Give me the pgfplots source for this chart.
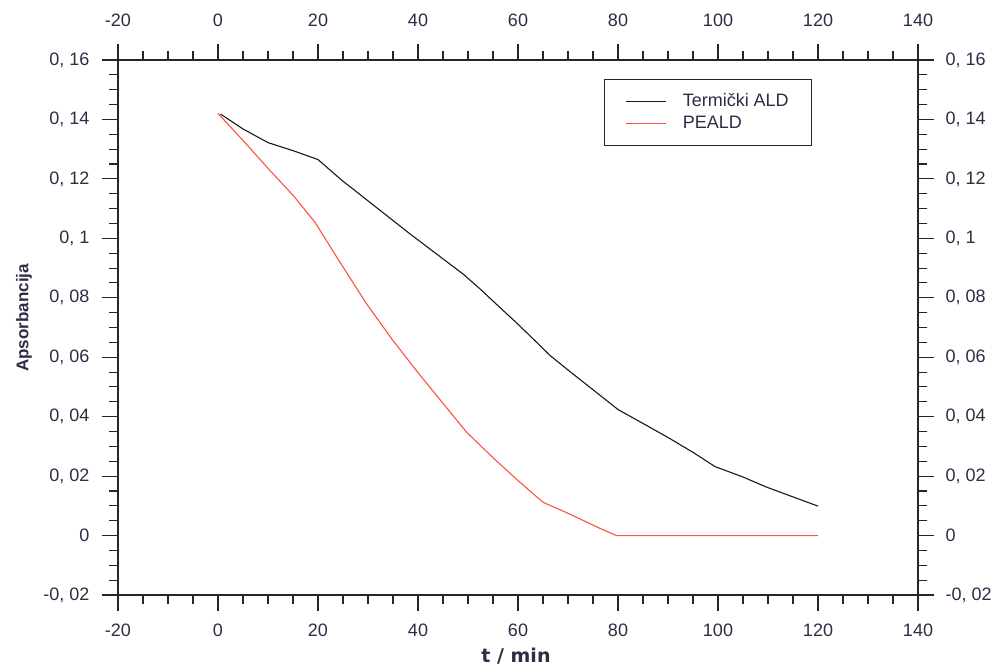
\documentclass[border=0pt]{standalone}
\usepackage{pgfplots}
\pgfplotsset{compat=1.18}
\usepackage{fontspec}
\setmainfont{Liberation Sans}
\newfontfamily\labfont{DejaVu Sans}
\definecolor{tickc}{RGB}{45,45,70}
\definecolor{redl}{RGB}{255,80,70}
\definecolor{blackl}{RGB}{25,25,25}
\begin{document}
\begin{tikzpicture}
\pgfplotsset{
 myaxis/.style={
  width=800pt, height=535pt, scale only axis,
  xmin=-20, xmax=140, ymin=-0.02, ymax=0.16,
  xtick={-20,0,20,40,60,80,100,120,140},
  ytick={-0.02,0,0.02,0.04,0.06,0.08,0.1,0.12,0.14,0.16},
  xticklabels={-20,0,20,40,60,80,100,120,140},
  yticklabels={{-0, 02},{0},{0, 02},{0, 04},{0, 06},{0, 08},{0, 1},{0, 12},{0, 14},{0, 16}},
  minor x tick num=3, minor y tick num=3,
  tick align=outside,
  major tick length=16pt, minor tick length=9pt,
  axis line style={line width=1.3pt, black!85},
  every tick/.style={line width=1.1pt, black!85},
  tick label style={font=\fontsize{18}{20}\selectfont, text=tickc},
 }}
\begin{axis}[myaxis,
  xticklabel style={yshift=-9pt},
  yticklabel style={xshift=-9pt},
  xlabel={\labfont\bfseries t / min},
  ylabel={\bfseries Apsorbancija},
  xlabel style={at={(axis description cs:0.4975,-0.114)}, anchor=center, font=\fontsize{19}{21}\selectfont, text=tickc},
  ylabel style={at={(axis description cs:-0.1175,0.518)}, anchor=center, font=\fontsize{17}{19}\selectfont, text=tickc},
  legend style={at={(axis description cs:0.6075,0.9645)}, anchor=north west, draw=black!85, line width=1.3pt,
     font=\fontsize{18}{20}\selectfont, text=tickc, inner xsep=21pt, inner ysep=12pt, row sep=2pt, column sep=14pt,
     nodes={inner sep=2pt, text height=13pt, text depth=3pt}},
  legend cell align=left,
  legend image code/.code={\draw[#1, line width=1.1pt] (0pt,0pt) -- (40pt,0pt);},
]
\addplot[blackl, line width=1.1pt] coordinates {
(0.5,0.1418)(5,0.1368)(10,0.1322)(15,0.1295)(20,0.1265)(25,0.1192)(27,0.1166)(30,0.1126)(35,0.1060)(38.4,0.1015)(45,0.0931)(49,0.0880)(52.4,0.0830)(55,0.0789)(60,0.0711)(63,0.0662)(66.4,0.0606)(70,0.0557)(76.4,0.0472)(80,0.0424)(86.4,0.0364)(90,0.0330)(95,0.0280)(99.4,0.0232)(105,0.0197)(109.7,0.0163)(115,0.0130)(120,0.0099)
};
\addlegendentry{Termički ALD}
\addplot[redl, line width=1.1pt] coordinates {
(0,0.1420)(4.7,0.1335)(10.4,0.1228)(15,0.1145)(19.4,0.1054)(24,0.0930)(29.7,0.0780)(35,0.0656)(40,0.0548)(45,0.0445)(49.7,0.0348)(55,0.0262)(60,0.0185)(65,0.0112)(70,0.0075)(76.4,0.0024)(79.7,0.0000)(90,0.0000)(100,0.0000)(110,0.0000)(120,0.0000)
};
\addlegendentry{PEALD}
\end{axis}
\begin{axis}[myaxis,
  xticklabel pos=right, yticklabel pos=right,
  xticklabel style={yshift=14pt},
  yticklabel style={xshift=8pt},
]
\end{axis}
\path (current axis.south west) ++(-118pt,-74pt) coordinate (bbA);
\path (current axis.north east) ++(80pt,60pt) coordinate (bbB);
\useasboundingbox (bbA) rectangle (bbB);
\end{tikzpicture}
\end{document}
